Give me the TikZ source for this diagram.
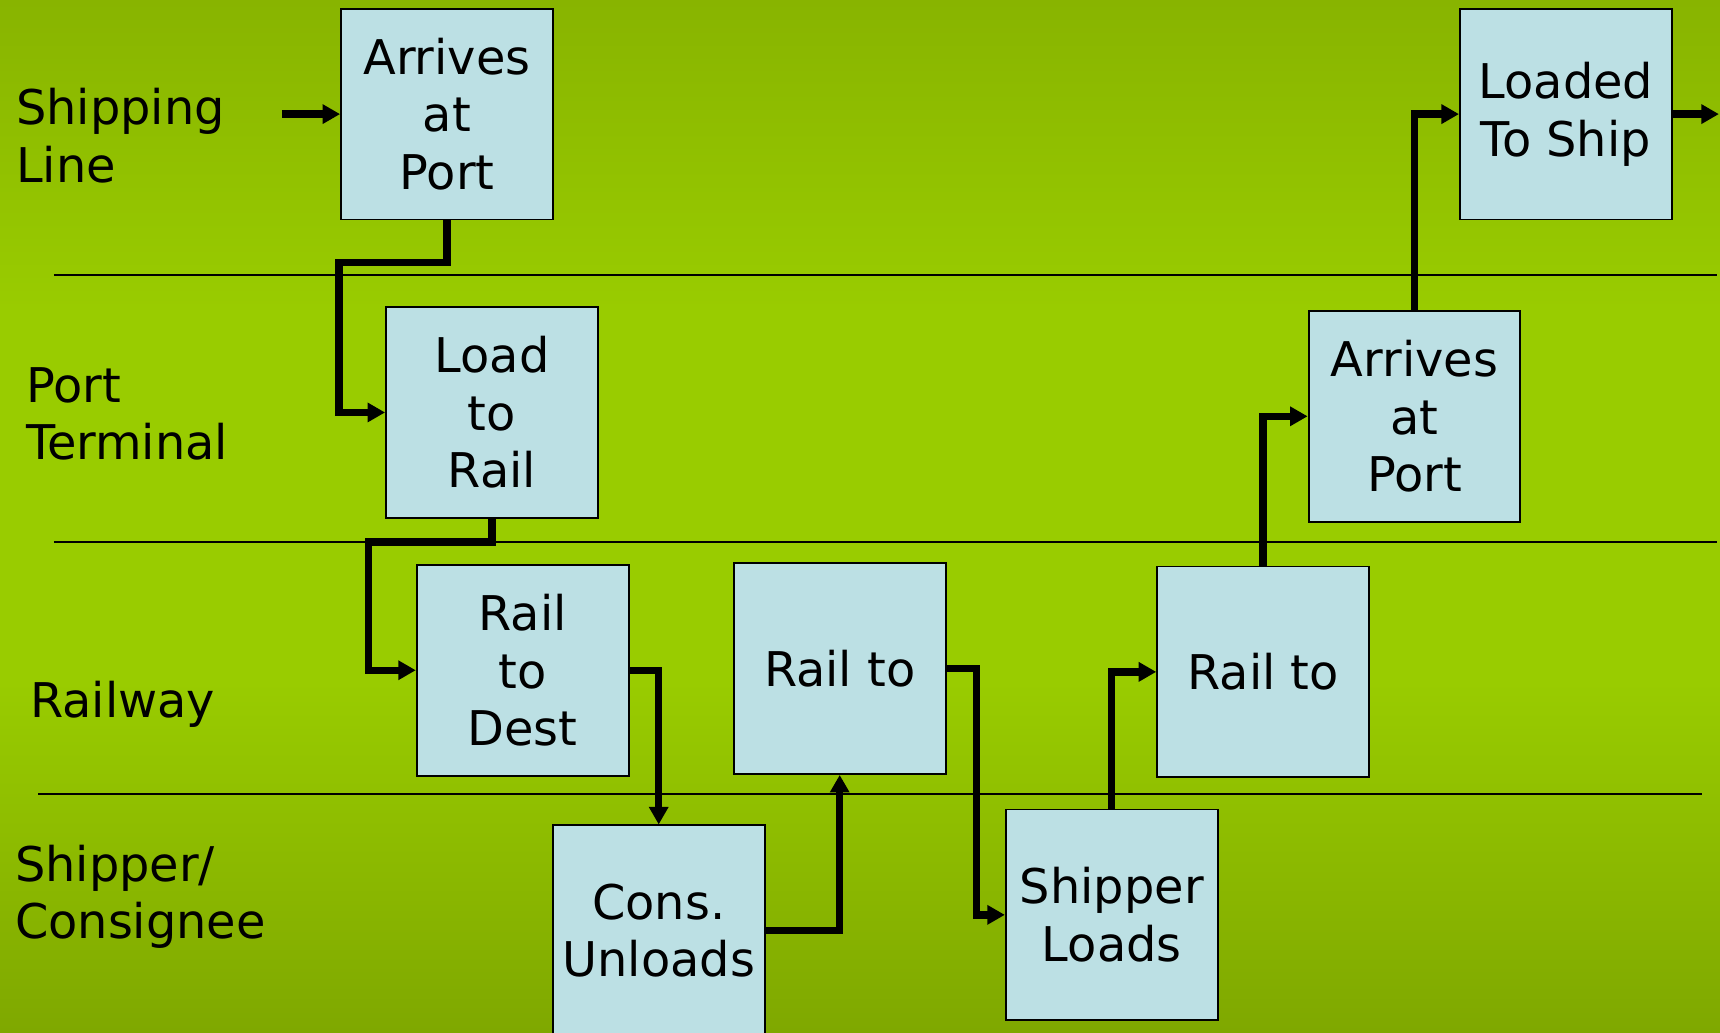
\documentclass[tikz,border=0pt]{standalone}
\usepackage{fontspec}
\setmainfont{DejaVu Sans}
\usetikzlibrary{arrows.meta}
\definecolor{bgtop}{HTML}{88B400}
\definecolor{bgmid}{HTML}{99CC00}
\definecolor{bgbot}{HTML}{7FA800}
\definecolor{boxfill}{HTML}{BCE0E4}
\pgfdeclareverticalshading{bgshade}{100bp}{color(0bp)=(bgbot); color(25bp)=(bgbot); color(42bp)=(bgmid); color(60bp)=(bgmid); color(75bp)=(bgtop); color(100bp)=(bgtop)}
\tikzset{
  lbl/.style={font=\fontsize{12.4pt}{14.9pt}\selectfont, inner sep=0pt, align=left},
  procbox/.style={draw=black, line width=0.5pt, fill=boxfill, rectangle, inner sep=0pt,
    minimum width=1.93cm, minimum height=1.92cm, align=center,
    font=\fontsize{12.4pt}{14.9pt}\selectfont},
  conn/.style={line width=1.9pt, -{Triangle[length=1.6mm,width=1.7mm]}},
  lane/.style={line width=0.5pt}
}
\begin{document}
\begin{tikzpicture}[x=0.01cm,y=-0.01cm]
\clip (0,0) rectangle (1568,941);
\shade[shading=bgshade] (0,0) rectangle (1568,941);
% lanes
\draw[lane] (49,251) -- (1565,251);
\draw[lane] (49,494) -- (1565,494);
\draw[lane] (35,724) -- (1552,724);
% lane labels (base = last line)
\node[lbl, anchor=base west] (l1) at (14,166) {Shipping\\Line};
\node[lbl, anchor=base west] (l2) at (23,419) {Port\\Terminal};
\node[lbl, anchor=base west] (l3) at (27,654) {Railway};
\node[lbl, anchor=base west] (l4) at (13,856) {Shipper/\\Consignee};
% boxes
\node[procbox] (A1) at (407.5,104) {Arrives\\at\\Port};
\node[procbox] (LR) at (448.5,376) {Load\\to\\Rail};
\node[procbox] (RD) at (476.5,611) {Rail\\to\\Dest};
\node[procbox] (RT1) at (765.5,609.5) {Rail to};
\node[procbox] (CU) at (600.5,848.5) {Cons.\\Unloads};
\node[procbox] (SL) at (1013.5,834) {Shipper\\Loads};
\node[procbox] (RT2) at (1151.5,612.5) {Rail to};
\node[procbox] (A2) at (1289.5,379.5) {Arrives\\at\\Port};
\node[procbox] (LS) at (1427.5,104) {Loaded\\To Ship};
% connectors
\coordinate (in) at (257,104);
\coordinate (out) at (1567,104);
\draw[conn] (in) -- (A1.west);
\draw[conn] (A1.south) |- (309,239) |- (LR.west);
\draw[conn] (LR.south) |- (336,494) |- (RD.west);
\draw[conn] (RD.east) -| (CU.north);
\draw[conn] (CU.east) -| (RT1.south);
\draw[conn] (RT1.east) -- ++(27,0) |- (SL.west);
\draw[conn] (SL.north) |- (RT2.west);
\draw[conn] (RT2.north) |- (A2.west);
\draw[conn] (A2.north) |- (LS.west);
\draw[conn] (LS.east) -- (out);
\end{tikzpicture}
\end{document}
